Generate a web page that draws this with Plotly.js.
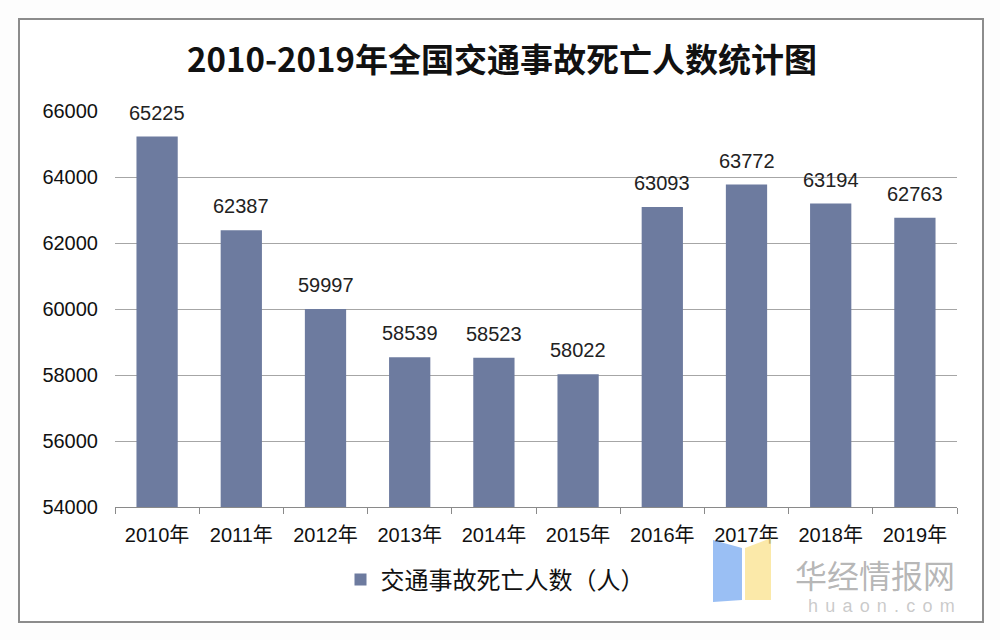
<!DOCTYPE html>
<html>
<head>
<meta charset="utf-8">
<script src="https://cdn.plot.ly/plotly-3.0.1.min.js"></script>
<style>html,body{margin:0;padding:0;background:#fdfdfd;}#chart{width:1000px;height:640px;}</style>
</head>
<body>
<div id="chart"></div>
<script>
const years = ["2010年","2011年","2012年","2013年","2014年","2015年","2016年","2017年","2018年","2019年"];
const deaths = [65225, 62387, 59997, 58539, 58523, 58022, 63093, 63772, 63194, 62763];
const seriesName = "交通事故死亡人数（人）";
const titleText = "2010-2019年全国交通事故死亡人数统计图";
const yTicks = [54000, 56000, 58000, 60000, 62000, 64000, 66000];
const watermarkCn = "华经情报网";
const watermarkEn = "huaon.com";

const fontStack = "Liberation Sans, Arial, Noto Sans CJK SC, sans-serif";

const trace = {
  type: "bar",
  x: years,
  y: deaths,
  name: seriesName,
  marker: {color: "#6d7b9f"},
  width: 0.49,
  showlegend: true
};

const labels = years.map((c, i) => ({
  x: c, y: deaths[i], xref: "x", yref: "y",
  text: String(deaths[i]), showarrow: false,
  yanchor: "middle", yshift: 24,
  font: {family: fontStack, size: 20, color: "#222"}
}));

labels.push({
  xref: "paper", yref: "paper", x: 1.0, y: -(549-507)/396, xanchor: "right", yanchor: "top",
  text: watermarkCn, showarrow: false,
  font: {family: "Noto Sans CJK SC, sans-serif", size: 32, color: "rgba(120,120,120,0.55)"}
});
labels.push({
  xref: "paper", yref: "paper", x: 1.0, y: -(594-507)/396, xanchor: "right", yanchor: "top",
  text: watermarkEn.split("").join("\u2009\u2009"), showarrow: false,
  font: {family: fontStack, size: 18, color: "rgba(150,150,150,0.5)"}
});

const layout = {
  width: 1000, height: 640,
  paper_bgcolor: "#fdfdfd",
  plot_bgcolor: "#ffffff",
  margin: {l: 115, r: 43, t: 111, b: 133},
  title: {
    text: "<b>" + titleText + "</b>",
    x: 0.502, xanchor: "center", xref: "container",
    y: 1 - 60/640, yanchor: "middle", yref: "container",
    font: {family: "Noto Sans CJK SC, sans-serif", size: 33, color: "#111"}
  },
  xaxis: {
    type: "category",
    showline: true, linecolor: "#8a8a8a", linewidth: 1,
    ticks: "outside", tickson: "boundaries", ticklen: 6, tickcolor: "#8a8a8a",
    ticklabelstandoff: 10,
    tickfont: {family: fontStack, size: 20, color: "#111"},
    showgrid: false, fixedrange: true
  },
  yaxis: {
    range: [54000, 66000],
    tickvals: yTicks,
    ticktext: yTicks.map(String),
    showgrid: true, gridcolor: "#a6a6a6", gridwidth: 1,
    showline: false, zeroline: false,
    ticks: "", ticklabelstandoff: 16,
    tickfont: {family: fontStack, size: 20, color: "#111"},
    fixedrange: true
  },
  showlegend: true,
  legend: {
    orientation: "h",
    xref: "container", yref: "container",
    x: 0.495, xanchor: "center",
    y: 1 - 580/640, yanchor: "middle",
    font: {family: "Noto Sans CJK SC, sans-serif", size: 24, color: "#111"},
    bgcolor: "rgba(0,0,0,0)", itemwidth: 30
  },
  annotations: labels,
  shapes: [
    {type: "rect", xref: "paper", yref: "paper", layer: "below",
     x0: (19-115)/842, x1: (983-115)/842, y0: -(622-507)/396, y1: 1 + (111-19)/396,
     line: {color: "#8c8c8c", width: 2}, fillcolor: "#ffffff"},
    {type: "path", xref: "paper", yref: "paper", layer: "above",
     path: "M " + ((713-115)/842) + "," + (-(540-507)/396) +
           " L " + ((742-115)/842) + "," + (-(548-507)/396) +
           " L " + ((742-115)/842) + "," + (-(600-507)/396) +
           " L " + ((713-115)/842) + "," + (-(602-507)/396) + " Z",
     fillcolor: "rgba(120,170,240,0.75)", line: {width: 0}},
    {type: "path", xref: "paper", yref: "paper", layer: "above",
     path: "M " + ((745-115)/842) + "," + (-(548-507)/396) +
           " L " + ((771-115)/842) + "," + (-(538-507)/396) +
           " L " + ((771-115)/842) + "," + (-(600-507)/396) +
           " L " + ((745-115)/842) + "," + (-(600-507)/396) + " Z",
     fillcolor: "rgba(250,225,140,0.75)", line: {width: 0}}
  ],
  bargap: 0.5
};

Plotly.newPlot("chart", [trace], layout, {displayModeBar: false, staticPlot: true});
</script>
</body>
</html>
